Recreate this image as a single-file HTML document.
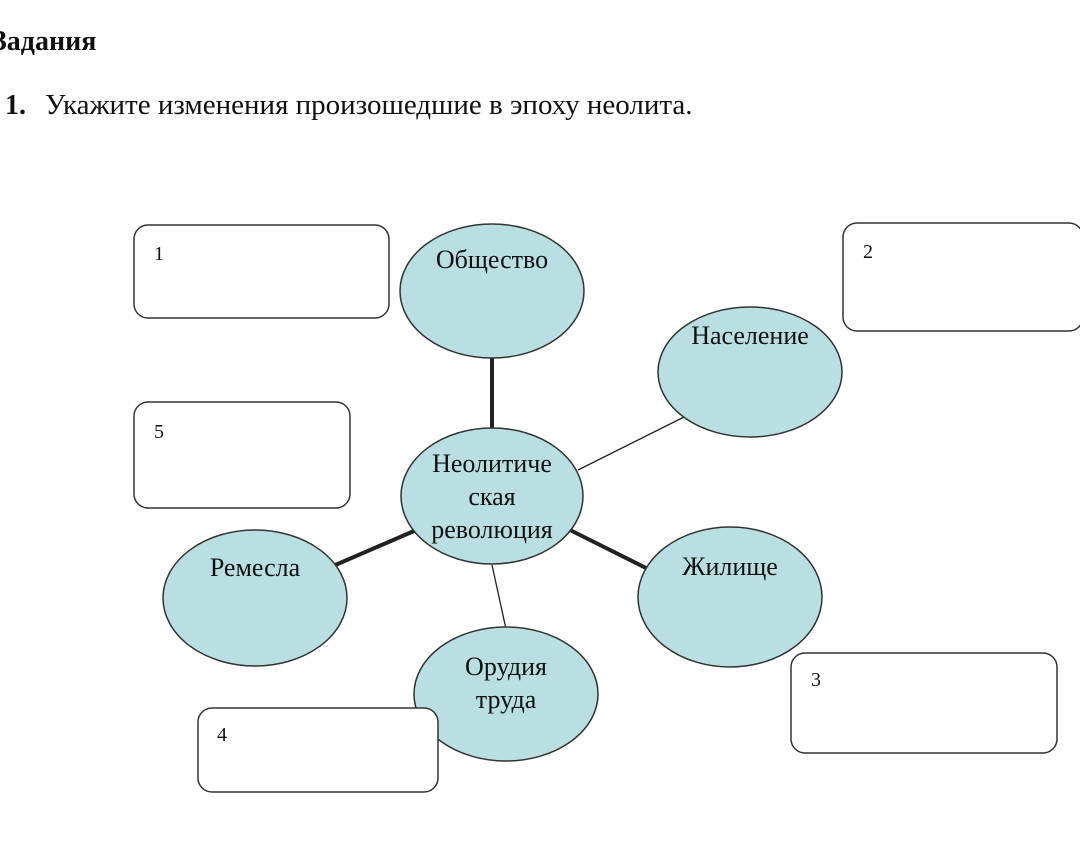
<!DOCTYPE html>
<html><head><meta charset="utf-8"><style>
html,body{margin:0;padding:0;background:#fff;width:1080px;height:843px;overflow:hidden}
svg text{font-family:"Liberation Serif",serif;fill:#111}
</style></head><body>
<svg width="1080" height="843" xmlns="http://www.w3.org/2000/svg">
<text x="-8" y="50" font-size="28" font-weight="bold">Задания</text>
<text x="5" y="114" font-size="28" font-weight="bold">1.</text>
<text x="45" y="114" font-size="29">Укажите изменения произошедшие в эпоху неолита.</text>
<g stroke="#222" fill="none">
<line x1="492" y1="355" x2="492" y2="430" stroke-width="4"/>
<line x1="686" y1="416" x2="578" y2="470" stroke-width="1.3"/>
<line x1="333" y1="566" x2="414" y2="531" stroke-width="4"/>
<line x1="570" y1="530" x2="652" y2="571" stroke-width="4"/>
<line x1="492" y1="565" x2="506" y2="629" stroke-width="1.3"/>
</g>
<g fill="#b9dfe2" stroke="#333" stroke-width="1.5">
<ellipse cx="492" cy="291" rx="92" ry="67"/>
<ellipse cx="750" cy="372" rx="92" ry="65"/>
<ellipse cx="492" cy="496" rx="91" ry="68"/>
<ellipse cx="255" cy="598" rx="92" ry="68"/>
<ellipse cx="730" cy="597" rx="92" ry="70"/>
<ellipse cx="506" cy="694" rx="92" ry="67"/>
</g>
<g fill="#fff" stroke="#333" stroke-width="1.5">
<rect x="134" y="225" width="255" height="93" rx="14"/>
<rect x="843" y="223" width="240" height="108" rx="14"/>
<rect x="134" y="402" width="216" height="106" rx="14"/>
<rect x="791" y="653" width="266" height="100" rx="14"/>
<rect x="198" y="708" width="240" height="84" rx="14"/>
</g>
<g font-size="20">
<text x="154" y="260">1</text>
<text x="863" y="258">2</text>
<text x="154" y="438">5</text>
<text x="811" y="686">3</text>
<text x="217" y="741">4</text>
</g>
<g font-size="26" text-anchor="middle">
<text x="492" y="268">Общество</text>
<text x="750" y="344">Население</text>
<text x="492" y="472">Неолитиче</text>
<text x="492" y="505">ская</text>
<text x="492" y="538">революция</text>
<text x="255" y="576">Ремесла</text>
<text x="730" y="575">Жилище</text>
<text x="506" y="675">Орудия</text>
<text x="506" y="708">труда</text>
</g>
</svg>
</body></html>
